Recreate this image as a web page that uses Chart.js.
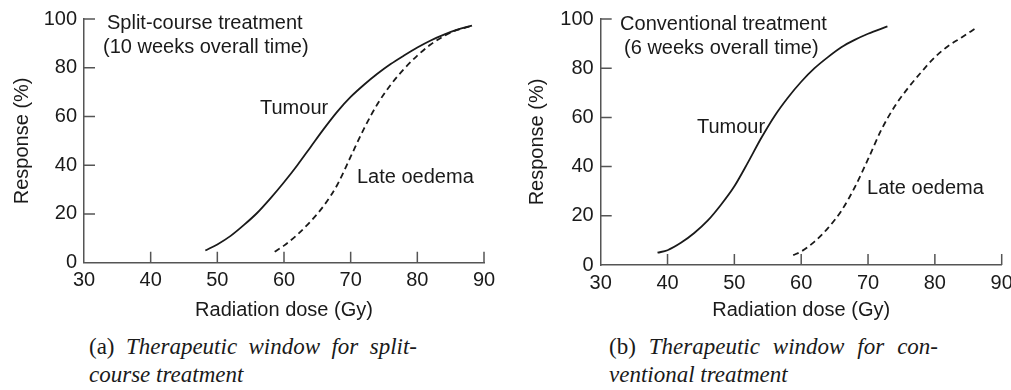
<!DOCTYPE html>
<html>
<head>
<meta charset="utf-8">
<script src="https://cdn.jsdelivr.net/npm/chart.js@4"></script>
<style>
  body { margin: 0; background: #fff; width: 1011px; height: 390px; overflow: hidden; position: relative; }
  .panel { position: absolute; top: 0; height: 330px; }
  .caption { position: absolute; font-family: 'Liberation Serif', serif; font-size: 23px; line-height: 28px; color: #1a1a1a; }
  .caption .l1 { text-align: justify; text-align-last: justify; white-space: nowrap; }
  .caption i { font-style: italic; }
</style>
</head>
<body>
<div class="panel" style="left:0;width:505px"><canvas id="chartOne"></canvas></div>
<div class="panel" style="left:505px;width:506px"><canvas id="chartTwo"></canvas></div>
<div class="caption" style="left:89px;top:333px;width:328px">
  <div class="l1">(a) <i>Therapeutic window for split-</i></div>
  <div><i>course treatment</i></div>
</div>
<div class="caption" style="left:609px;top:333px;width:329px">
  <div class="l1">(b) <i>Therapeutic window for con-</i></div>
  <div><i>ventional treatment</i></div>
</div>
<script>
// tick labels
const xTicks = [30, 40, 50, 60, 70, 80, 90];
const yTicks = [0, 20, 40, 60, 80, 100];

// (a) split-course treatment
const splitTumourDose = [48.2, 50, 52, 54, 56, 58, 60, 62, 64, 66, 68, 70, 72, 74, 76, 78, 80, 82, 84, 86, 88.2];
const splitTumourResp = [5, 7.5, 11, 15.5, 20.5, 26.5, 33, 40, 47.5, 55, 62, 68, 73, 77.5, 81.5, 85, 88.3, 91.2, 93.6, 95.6, 97.3];
const splitOedemaDose = [58.6, 60, 62, 64, 66, 68, 70, 72, 74, 76, 78, 80, 82, 84, 86, 88];
const splitOedemaResp = [4.5, 7, 11.5, 17, 23.5, 32, 43.5, 55, 65, 73, 79.5, 85, 89.5, 93, 95.5, 97];

// (b) conventional treatment
const convTumourDose = [38.5, 40, 42, 44, 46, 48, 50, 52, 54, 56, 58, 60, 62, 64, 66, 68, 70, 72.9];
const convTumourResp = [5, 6, 9, 13, 18, 24.5, 32, 41.5, 51.5, 60.5, 68, 74.5, 80, 84.5, 88.5, 91.5, 94, 97];
const convOedemaDose = [58.8, 60, 62, 64, 66, 68, 70, 72, 74, 76, 78, 80, 82, 84, 86.1];
const convOedemaResp = [4, 5.5, 9.5, 15, 22, 31.5, 43, 55, 64.5, 72, 78.5, 84.5, 89, 92.5, 96.2];

const splitLabels = [
  { text: 'Split-course treatment', x: 33.45, y: 98.2 },
  { text: '(10 weeks overall time)', x: 32.85, y: 88.4 },
  { text: 'Tumour', x: 56.4, y: 63.4 },
  { text: 'Late oedema', x: 70.95, y: 35.1 }
];
const convLabels = [
  { text: 'Conventional treatment', x: 32.9, y: 97.6 },
  { text: '(6 weeks overall time)', x: 33.5, y: 88.2 },
  { text: 'Tumour', x: 44.4, y: 56.1 },
  { text: 'Late oedema', x: 69.85, y: 31.3 }
];

const ink = '#1a1a1a';
const axisGrey = '#555';
const font = { family: "'Liberation Sans', Arial, sans-serif", size: 20 };

function pts(xs, ys) {
  return xs.map((x, i) => ({ x: x, y: ys[i] }));
}

// inward tick marks and text labels, placed through the chart's own scales
const innerTicks = {
  id: 'innerTicks',
  afterDraw(chart, args, opts) {
    const ctx = chart.ctx;
    const xs = chart.scales.x, ys = chart.scales.y;
    const area = chart.chartArea;
    ctx.save();
    ctx.strokeStyle = axisGrey;
    ctx.lineWidth = 1.5;
    ctx.beginPath();
    xTicks.slice(1).forEach(v => {
      const px = xs.getPixelForValue(v);
      ctx.moveTo(px, area.bottom);
      ctx.lineTo(px, area.bottom - 11);
    });
    yTicks.slice(1).forEach(v => {
      const py = ys.getPixelForValue(v);
      ctx.moveTo(area.left, py);
      ctx.lineTo(area.left + 11, py);
    });
    ctx.stroke();
    ctx.fillStyle = ink;
    ctx.font = font.size + 'px ' + font.family;
    ctx.textBaseline = 'middle';
    ctx.textAlign = 'left';
    opts.labels.forEach(l => {
      ctx.fillText(l.text, xs.getPixelForValue(l.x), ys.getPixelForValue(l.y));
    });
    ctx.restore();
  }
};

function makeChart(el, tumour, oedema, labels, geo) {
  return new Chart(el, {
    type: 'line',
    data: {
      datasets: [{
        label: 'Tumour',
        data: tumour,
        borderColor: ink,
        borderWidth: 1.8,
        pointRadius: 0,
        cubicInterpolationMode: 'monotone'
      }, {
        label: 'Late oedema',
        data: oedema,
        borderColor: ink,
        borderWidth: 1.8,
        borderDash: [6, 4],
        pointRadius: 0,
        cubicInterpolationMode: 'monotone'
      }]
    },
    options: {
      animation: false,
      responsive: true,
      maintainAspectRatio: false,
      layout: { padding: { left: 0, right: geo.right, top: geo.top, bottom: 0 } },
      plugins: {
        legend: { display: false },
        tooltip: { enabled: false },
        innerTicks: { labels: labels }
      },
      scales: {
        x: {
          type: 'linear',
          min: 30,
          max: 90,
          afterBuildTicks: s => { s.ticks = xTicks.map(v => ({ value: v })); },
          afterFit: s => { s.height = geo.xHeight; s.paddingLeft = 0; s.paddingRight = 0; },
          grid: { display: false, drawTicks: false, tickLength: 0 },
          border: { display: true, color: axisGrey, width: 1.5 },
          ticks: { color: ink, font: font, padding: 6, maxRotation: 0 },
          title: { display: true, text: 'Radiation dose (Gy)', color: ink, font: font, padding: { top: 0, bottom: 8 } }
        },
        y: {
          min: 0,
          max: 100,
          afterBuildTicks: s => { s.ticks = yTicks.map(v => ({ value: v })); },
          afterFit: s => { s.width = geo.yWidth; },
          grid: { display: false, drawTicks: false, tickLength: 0 },
          border: { display: true, color: axisGrey, width: 1.5 },
          ticks: { color: ink, font: font, padding: 7 },
          title: { display: true, text: 'Response (%)', color: ink, font: font, padding: { top: geo.yTitlePad, bottom: 0 } }
        }
      }
    },
    plugins: [innerTicks]
  });
}

makeChart(document.getElementById('chartOne'),
  pts(splitTumourDose, splitTumourResp), pts(splitOedemaDose, splitOedemaResp), splitLabels,
  { right: 21, top: 18.5, xHeight: 67.3, yWidth: 84, yTitlePad: 10 });

makeChart(document.getElementById('chartTwo'),
  pts(convTumourDose, convTumourResp), pts(convOedemaDose, convOedemaResp), convLabels,
  { right: 9.3, top: 19, xHeight: 65, yWidth: 95.7, yTitlePad: 20 });
</script>
</body>
</html>
